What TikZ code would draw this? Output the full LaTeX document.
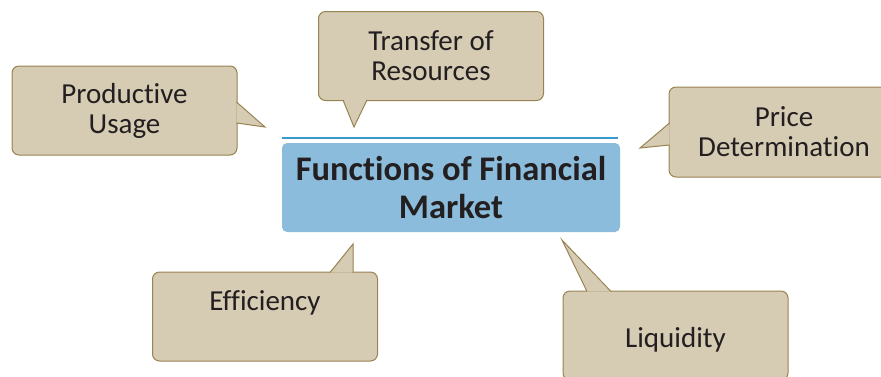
\documentclass[tikz,border=0pt]{standalone}
\usepackage{fontspec}
\setmainfont{Carlito}[Ligatures=NoCommon]
\definecolor{tan}{RGB}{214,203,179}
\definecolor{tanline}{RGB}{152,132,82}
\definecolor{mainblue}{RGB}{139,188,219}
\definecolor{rule}{RGB}{58,154,206}
\definecolor{ink}{RGB}{35,31,32}
\tikzset{
	fnbox/.style={draw=tanline, fill=tan, line width=1pt, rounded corners=7pt, align=center,
		minimum width=225pt, minimum height=89pt, text=ink, font=\fontsize{29}{30}\selectfont},
	pointer/.style={draw=tanline, fill=tan, line width=1pt},
	mainbox/.style={fill=mainblue, rounded corners=5pt, align=center, minimum width=338pt,
		minimum height=89pt, text=ink, font=\fontsize{34.5}{38}\selectfont\bfseries}
}
\begin{document}
\begin{tikzpicture}[x=1pt, y=-1pt]
			\useasboundingbox (0,0) rectangle (881,376);
			\node(Functions)	[mainbox]	at (451,187.5)	{Functions of Financial\\Market};
			\node(Productive)	[fnbox]		at (124.5,110.5)	{Productive\\Usage};
			\node(Transfer)		[fnbox]		at (431,56)		{Transfer of\\Resources};
			\node(Price)		[fnbox, minimum width=230pt, minimum height=90pt]	at (784,132)	{Price\\Determination};
			\node(Efficiency)	[fnbox, text depth=32pt]	at (265,316.5)	{Efficiency};
			\node(Liquidity)	[fnbox, text height=28pt]	at (675.5,335.5)	{Liquidity};
			\coordinate(ProductiveTip)	at (265,127);
			\coordinate(TransferTip)	at (354,127);
			\coordinate(PriceTip)		at (640,148);
			\coordinate(EfficiencyTip)	at (353,244);
			\coordinate(LiquidityTip)	at (562,240);
			\draw[rule, line width=1.5pt] (Functions.north west) ++(0,-5) -- ++(336,0);
			\filldraw[pointer] ([xshift=-1pt, yshift=8.5pt]Productive.east) -- (ProductiveTip) -- ([xshift=-1pt, yshift=-12.5pt]Productive.east);
			\filldraw[pointer] ([xshift=-88pt, yshift=1pt]Transfer.south) -- (TransferTip) -- ([xshift=-64pt, yshift=1pt]Transfer.south);
			\filldraw[pointer] ([xshift=1pt, yshift=9pt]Price.west) -- (PriceTip) -- ([xshift=1pt, yshift=-13pt]Price.west);
			\filldraw[pointer] ([xshift=65pt, yshift=-1pt]Efficiency.north) -- (EfficiencyTip) -- ([xshift=88pt, yshift=-1pt]Efficiency.north);
			\filldraw[pointer] ([xshift=-88.5pt, yshift=-1pt]Liquidity.north) -- (LiquidityTip) -- ([xshift=-64.5pt, yshift=-1pt]Liquidity.north);
		\end{tikzpicture}
\end{document}
